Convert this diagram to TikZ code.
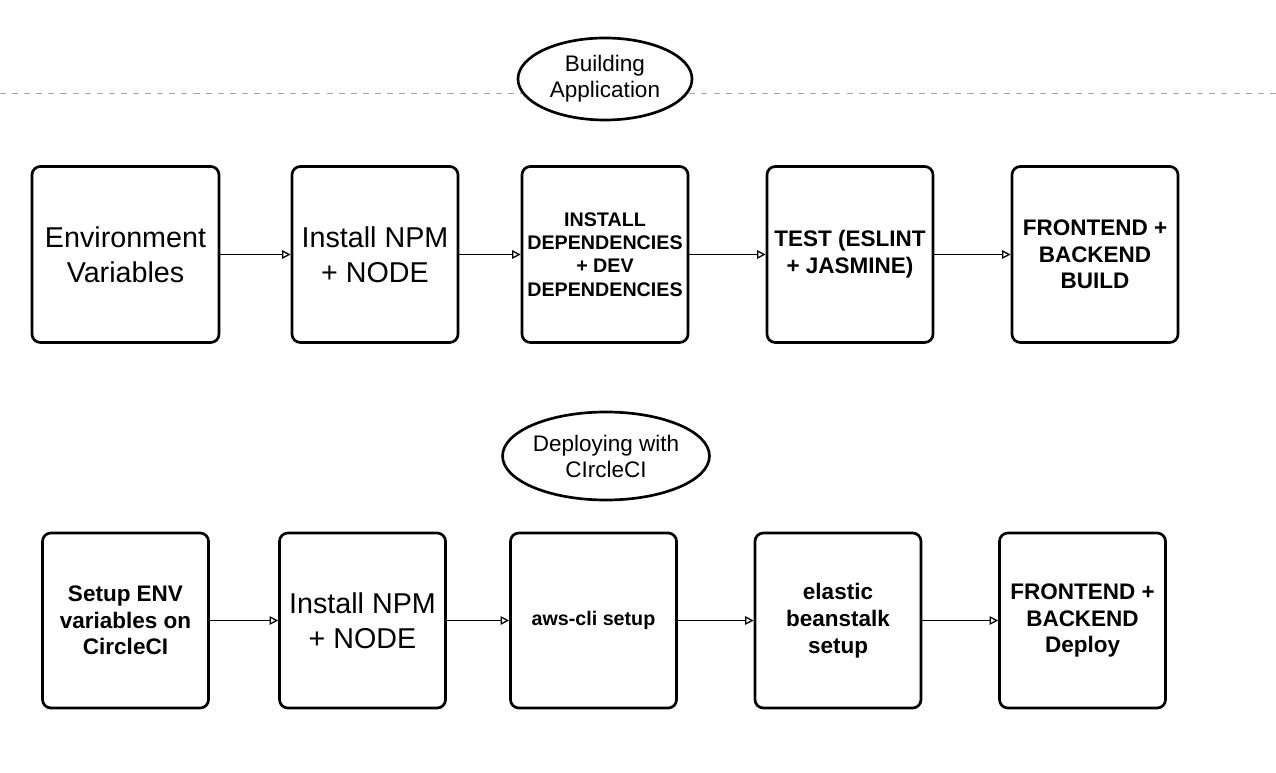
\documentclass[tikz,border=0pt]{standalone}
\usepackage{fontspec}
\setmainfont{Liberation Sans}
\usepackage{tikz}
\usetikzlibrary{arrows.meta, shapes.geometric}

\begin{document}
\begin{tikzpicture}[x=0.025cm, y=-0.025cm,
    stage/.style={draw, line width=1.9pt, rounded corners=6pt, minimum width=4.15cm, minimum height=4.4cm, align=center, inner sep=1pt},
    tag/.style={draw, ellipse, line width=1.9pt, fill=white, align=center, inner sep=0pt, font=\fontsize{16}{18.5}\selectfont},
    lighttxt/.style={font=\fontsize{20.4}{25}\selectfont},
    boldtxt/.style={font=\fontsize{16}{19}\selectfont\bfseries},
    boldsmall/.style={font=\fontsize{14}{16.5}\selectfont\bfseries},
    link/.style={-{Triangle[open, length=6pt, width=6pt]}, line width=0.9pt}]
            \useasboundingbox (0,0) rectangle (1276,773);

            \draw[black!35, line width=0.7pt, dash pattern=on 4.3pt off 4.3pt] (0,93) -- (1276,93);

            \node[tag, minimum width=4.35cm, minimum height=2.05cm] (build) at (605,79) {Building\\Application};
            \node[tag, minimum width=5.1cm, minimum height=2.2cm] (deploy) at (606,456) {Deploying with\\CIrcleCI};

            \node[stage, lighttxt, minimum width=4.675cm] (env) at (125.5,254.5) {Environment\\Variables};
            \node[stage, lighttxt] (npm) at (375,254.5) {Install NPM\\+ NODE};
            \node[stage, boldsmall] (deps) at (605,254.5) {INSTALL\\DEPENDENCIES\\+ DEV\\DEPENDENCIES};
            \node[stage, boldtxt] (test) at (850,254.5) {TEST (ESLINT\\+ JASMINE)};
            \node[stage, boldtxt] (build out) at (1095,254.5) {FRONTEND +\\BACKEND\\BUILD};

            \node[stage, boldtxt, minimum height=4.375cm] (envci) at (125.5,620.5) {Setup ENV\\variables on\\CircleCI};
            \node[stage, lighttxt, minimum height=4.375cm] (npmci) at (362.5,620.5) {Install NPM\\+ NODE};
            \node[stage, boldsmall, minimum height=4.375cm] (awscli) at (593.5,620.5) {aws-cli setup};
            \node[stage, boldtxt, minimum height=4.375cm] (ebs) at (838,620.5) {elastic\\beanstalk\\setup};
            \node[stage, boldtxt, minimum height=4.375cm] (ship) at (1082.5,620.5) {FRONTEND +\\BACKEND\\Deploy};

            \draw[link] (env) -- (npm);
            \draw[link] (npm) -- (deps);
            \draw[link] (deps) -- (test);
            \draw[link] (test) -- (build out);

            \draw[link] (envci) -- (npmci);
            \draw[link] (npmci) -- (awscli);
            \draw[link] (awscli) -- (ebs);
            \draw[link] (ebs) -- (ship);
        \end{tikzpicture}
\end{document}
